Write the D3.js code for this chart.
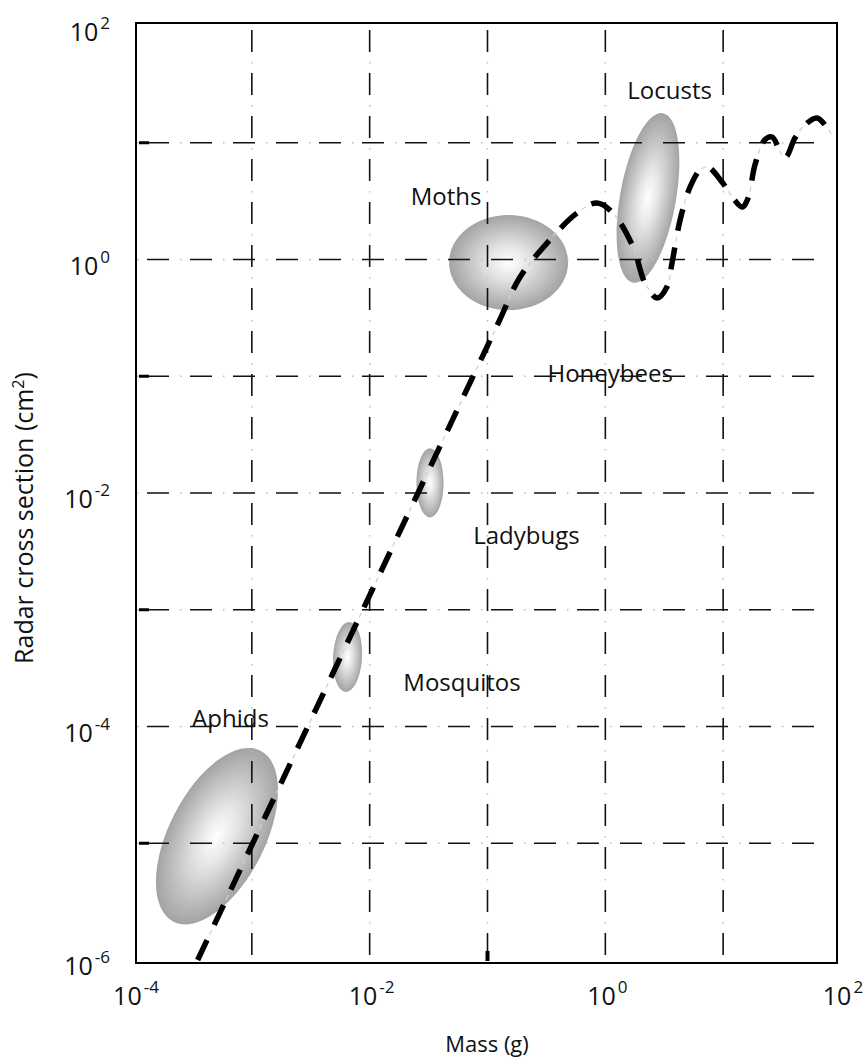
<!DOCTYPE html>
<html>
<head>
<meta charset="utf-8">
<script src="https://cdn.jsdelivr.net/npm/d3@7"></script>
<style>
  html, body { margin: 0; padding: 0; background: #fff; }
  svg { display: block; font-family: "Open Sans", "DejaVu Sans", sans-serif; }
</style>
</head>
<body>
<svg id="chart" width="867" height="1061"></svg>
<script>
// Radar cross section of insects against body mass, log–log axes.

// Axis ticks (value and the exponent printed as 10^n)
const massTickValues = [1e-4, 1e-2, 1e0, 1e2];
const massTickExponents = ["-4", "-2", "0", "2"];
const rcsTickValues = [1e2, 1e0, 1e-2, 1e-4, 1e-6];
const rcsTickExponents = ["2", "0", "-2", "-4", "-6"];

// Grid decades
const massGridValues = [1e-3, 1e-2, 1e-1, 1e0, 1e1];
const rcsGridValues = [1e1, 1e0, 1e-1, 1e-2, 1e-3, 1e-4, 1e-5];
const rcsMarkValues = [1e1, 1e-1, 1e-3, 1e-5];
const massMarkValues = [1e-1];

// Trend curve: mass (g) and radar cross section (cm²)
const trendMass = [3.47e-4, 5.01e-3, 0.0631, 0.126, 0.189, 0.320, 0.575, 0.849, 1.16, 1.72,
                   2.17, 2.75, 3.33, 3.68, 4.31, 5.24, 6.37, 7.43, 9.77, 12.1,
                   14.5, 16.3, 18.6, 22.6, 26.0, 31.6, 34.1, 40.7, 49.5, 62.7, 83.9];
const trendRcs  = [1.0e-6, 3.03e-4, 0.0682, 0.299, 0.708, 1.38, 2.50, 3.05, 2.50, 1.28,
                   0.630, 0.468, 0.581, 0.933, 2.18, 4.18, 5.85, 6.19, 4.61, 3.37,
                   2.82, 3.37, 6.44, 10.6, 11.2, 7.85, 7.55, 11.0, 14.2, 16.3, 11.6];

// Insect groups: cluster centre, half-spread in decades, tilt of the cluster (deg)
const groupNames = ["Aphids", "Mosquitos", "Ladybugs", "Moths", "Locusts"];
const groupMass = [5.06e-4, 6.49e-3, 0.0325, 0.151, 2.30];
const groupRcs = [1.15e-5, 3.94e-4, 0.0122, 0.942, 3.37];
const groupMassSpread = [0.407, 0.123, 0.115, 0.505, 0.238];
const groupRcsSpread = [0.822, 0.300, 0.296, 0.407, 0.737];
const groupTilt = [27, 3, 0, 0, 10];

// Group names placed on the chart (centre of text, baseline)
const labelNames = ["Locusts", "Moths", "Honeybees", "Ladybugs", "Mosquitos", "Aphids"];
const labelMass = [3.51, 0.0445, 1.10, 0.214, 0.0608, 6.59e-4];
const labelRcs = [23.7, 2.93, 0.0893, 3.66e-3, 2.01e-4, 9.91e-5];

const svg = d3.select("#chart");

const x = d3.scaleLog().domain([1e-4, 1e2]).range([134, 841]);
const y = d3.scaleLog().domain([1e-6, 1e2]).range([960, 26]);
const pxPerDecadeX = (x(1e2) - x(1e-4)) / 6;
const pxPerDecadeY = (y(1e-6) - y(1e2)) / 8;

// Shading for the clusters
const defs = svg.append("defs");
const grad = defs.append("radialGradient").attr("id", "cluster")
  .attr("cx", "50%").attr("cy", "50%").attr("r", "50%");
grad.append("stop").attr("offset", "0%").attr("stop-color", "#ffffff");
grad.append("stop").attr("offset", "35%").attr("stop-color", "#e4e4e4");
grad.append("stop").attr("offset", "100%").attr("stop-color", "#a3a3a3");

const groups = groupNames.map((n, i) => ({
  name: n, mass: groupMass[i], rcs: groupRcs[i],
  sx: groupMassSpread[i], sy: groupRcsSpread[i], tilt: groupTilt[i]
}));

svg.append("g").selectAll("ellipse").data(groups).join("ellipse")
  .attr("transform", d => `translate(${x(d.mass)},${y(d.rcs)}) rotate(${d.tilt})`)
  .attr("rx", d => d.sx * pxPerDecadeX)
  .attr("ry", d => d.sy * pxPerDecadeY)
  .attr("fill", "url(#cluster)");

// Dash–dot grid
const grid = svg.append("g");
const vTop = y(1e2) + 4, vBot = y(1e-6) - 2;
const hLeft = x(1e-4) + 3, hRight = x(1e2) - 21;

grid.selectAll("line.vdash").data(massGridValues).join("line")
  .attr("class", "vdash")
  .attr("x1", d => x(d)).attr("x2", d => x(d))
  .attr("y1", vTop).attr("y2", vBot)
  .attr("stroke", "#111").attr("stroke-width", 1.6)
  .attr("stroke-dasharray", "22 21");
grid.selectAll("line.vdot").data(massGridValues).join("line")
  .attr("class", "vdot")
  .attr("x1", d => x(d)).attr("x2", d => x(d))
  .attr("y1", vTop).attr("y2", vBot)
  .attr("stroke", "#bdbdbd").attr("stroke-width", 1.4)
  .attr("stroke-dasharray", "0 32 1.5 9.5");

grid.selectAll("line.hdash").data(rcsGridValues).join("line")
  .attr("class", "hdash")
  .attr("x1", hLeft).attr("x2", hRight)
  .attr("y1", d => y(d)).attr("y2", d => y(d))
  .attr("stroke", "#111").attr("stroke-width", 1.6)
  .attr("stroke-dasharray", "0 10 22 11");
grid.selectAll("line.hdot").data(rcsGridValues).join("line")
  .attr("class", "hdot")
  .attr("x1", hLeft).attr("x2", hRight)
  .attr("y1", d => y(d)).attr("y2", d => y(d))
  .attr("stroke", "#bdbdbd").attr("stroke-width", 1.4)
  .attr("stroke-dasharray", "1.5 41.5");

// Plot frame
const fL = x(1e-4) + 2, fR = x(1e2) - 4, fT = y(1e2) - 3, fB = y(1e-6) + 3;
svg.append("rect")
  .attr("x", fL).attr("y", fT).attr("width", fR - fL).attr("height", fB - fT)
  .attr("fill", "none").attr("stroke", "#000").attr("stroke-width", 2);

// Short tick marks on the frame
svg.append("g").selectAll("rect").data(rcsMarkValues).join("rect")
  .attr("x", fL + 3).attr("y", d => y(d) - 1.5).attr("width", 10).attr("height", 3)
  .attr("fill", "#000");
svg.append("g").selectAll("rect").data(massMarkValues).join("rect")
  .attr("x", d => x(d) - 2).attr("y", fB - 12).attr("width", 4).attr("height", 10)
  .attr("fill", "#000");

// Trend curve
const trend = trendMass.map((m, i) => [m, trendRcs[i]]);
const line = d3.line().x(d => x(d[0])).y(d => y(d[1])).curve(d3.curveCatmullRom.alpha(0.5));

svg.append("path").datum(trend)
  .attr("d", line).attr("fill", "none")
  .attr("stroke", "#cfcfcf").attr("stroke-width", 1.2)
  .attr("stroke-dasharray", "0 28 5 6");
svg.append("path").datum(trend)
  .attr("d", line).attr("fill", "none")
  .attr("stroke", "#000").attr("stroke-width", 5.5)
  .attr("stroke-dasharray", "22 17");

// Group names
const labels = labelNames.map((n, i) => ({ name: n, mass: labelMass[i], rcs: labelRcs[i] }));
svg.append("g").selectAll("text").data(labels).join("text")
  .attr("x", d => x(d.mass)).attr("y", d => y(d.rcs))
  .attr("text-anchor", "middle").attr("font-size", 24).attr("fill", "#111")
  .text(d => d.name);

// Tick labels, x axis
const xTicks = massTickValues.map((v, i) => ({ v, e: massTickExponents[i] }));
const xt = svg.append("g").selectAll("text").data(xTicks).join("text")
  .attr("x", d => x(d.v) + 2).attr("y", 1005)
  .attr("text-anchor", "middle").attr("font-size", 25).attr("fill", "#111");
xt.append("tspan").text("10");
xt.append("tspan").attr("font-size", 17).attr("dx", 2).attr("dy", -12).text(d => d.e);

// Tick labels, y axis
const yTicks = rcsTickValues.map((v, i) => ({ v, e: rcsTickExponents[i] }));
const yt = svg.append("g").selectAll("text").data(yTicks).join("text")
  .attr("x", 110).attr("y", d => Math.max(y(d.v) + 15, 33))
  .attr("text-anchor", "end").attr("font-size", 25).attr("fill", "#111");
yt.append("tspan").text("10");
yt.append("tspan").attr("font-size", 17).attr("dx", 2).attr("dy", -12).text(d => d.e);

// Axis titles
svg.append("text")
  .attr("x", 487).attr("y", 1052).attr("text-anchor", "middle")
  .attr("font-size", 22).attr("fill", "#111")
  .text("Mass (g)");

const yTitle = svg.append("text")
  .attr("transform", "translate(33,518) rotate(-90)")
  .attr("text-anchor", "middle").attr("font-size", 25).attr("fill", "#111");
yTitle.append("tspan").text("Radar cross section (cm");
yTitle.append("tspan").attr("font-size", 16).attr("dy", -9).text("2");
yTitle.append("tspan").attr("dy", 9).text(")");
</script>
</body>
</html>
